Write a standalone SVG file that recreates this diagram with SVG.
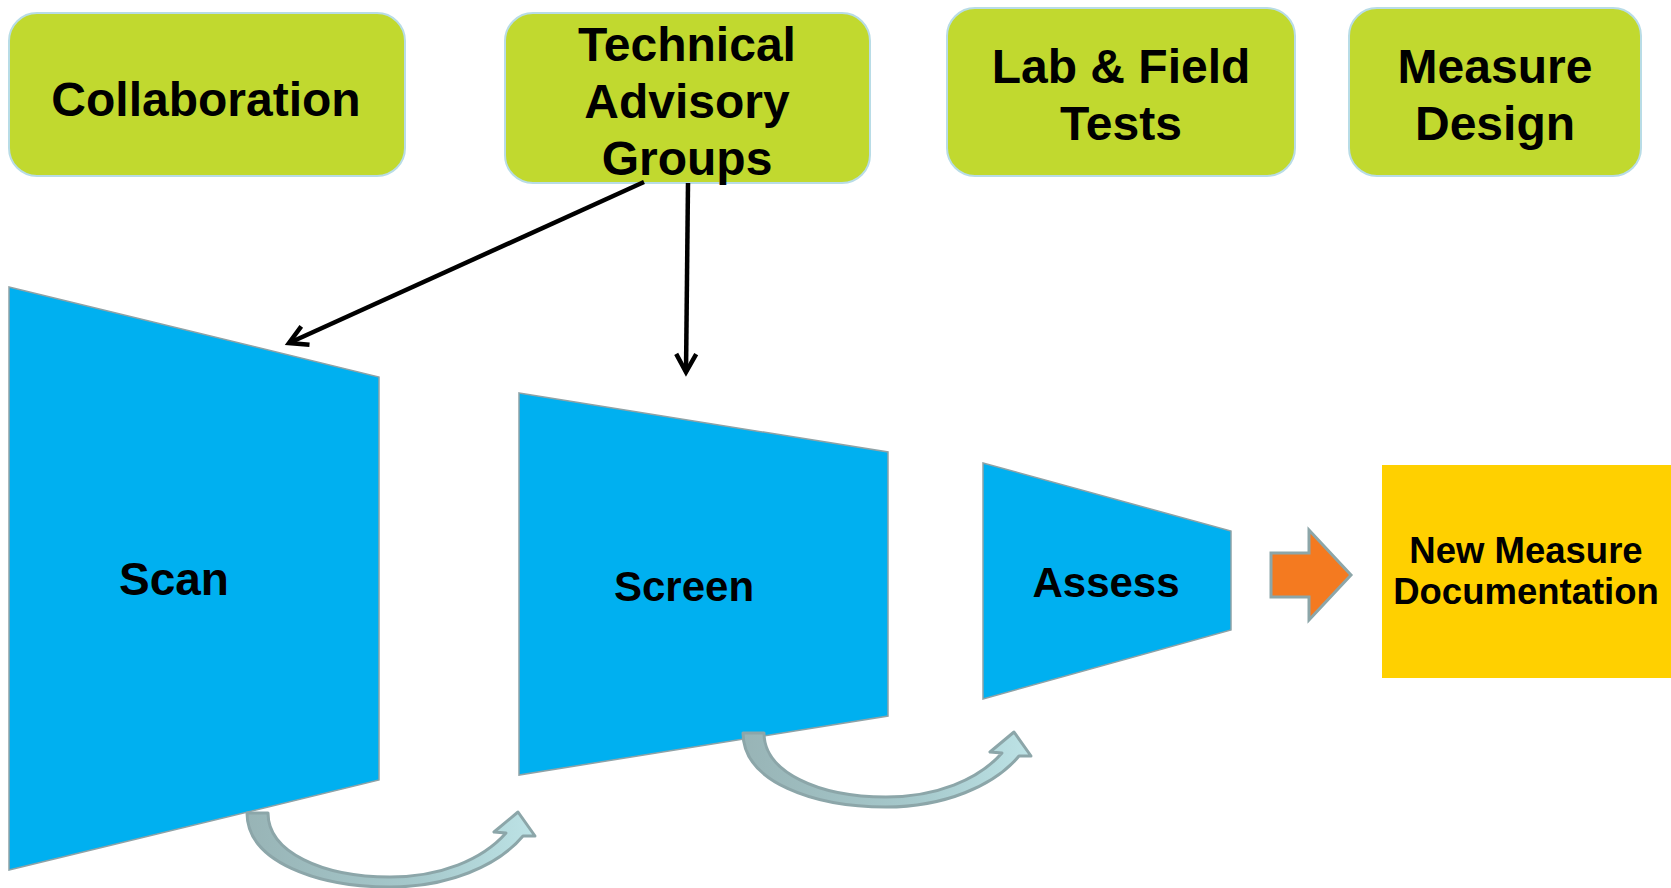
<svg xmlns="http://www.w3.org/2000/svg" width="1671" height="888" viewBox="0 0 1671 888">
  <style>
    .box { fill: #C1D92F; stroke: #B8DCE6; stroke-width: 2; }
    .stage { fill: #00B0F0; stroke: #8FA2A6; stroke-width: 1.5; }
    .lbl { font-family: "Liberation Sans", Arial, sans-serif; font-weight: bold; fill: #000; text-anchor: middle; }
    .top { font-size: 48px; }
    .conn { stroke: #000; stroke-width: 4.5; fill: none; marker-end: url(#vhead); }
    .bend { fill: url(#bendFill); stroke: #8CA6A9; stroke-width: 3; stroke-linejoin: round; }
  </style>
  <defs>
    <marker id="vhead" markerUnits="userSpaceOnUse" markerWidth="28" markerHeight="28" refX="22" refY="13" orient="auto">
      <path d="M4,3 L22,13 L4,23" fill="none" stroke="#000" stroke-width="4.5"/>
    </marker>
    <linearGradient id="bendFill" x1="0" y1="0" x2="1" y2="0">
      <stop offset="0" stop-color="#98B4B6"/>
      <stop offset="0.6" stop-color="#A6C9CC"/>
      <stop offset="1" stop-color="#BDE3E6"/>
    </linearGradient>
    <!-- curved hand-off arrow between stages -->
    <path id="bendArrow" class="bend" d="M247,813 C247,862 318,887 390,887 C448,887 498,866 523,836 L535,836 L518,812 L494,832 L506,833 C482,860 440,877 390,877 C322,877 268,852 268,813 Z"/>
  </defs>

  <!-- top row -->
  <g id="collaboration">
    <rect class="box" x="9" y="13" width="396" height="163" rx="28"/>
    <text class="lbl top" x="206" y="116">Collaboration</text>
  </g>
  <g id="tag">
    <rect class="box" x="505" y="13" width="365" height="170" rx="28"/>
    <text class="lbl top" x="687" y="61">Technical</text>
    <text class="lbl top" x="687" y="118">Advisory</text>
    <text class="lbl top" x="687" y="175">Groups</text>
  </g>
  <g id="labfield">
    <rect class="box" x="947" y="8" width="348" height="168" rx="28"/>
    <text class="lbl top" x="1121" y="83">Lab &amp; Field</text>
    <text class="lbl top" x="1121" y="140">Tests</text>
  </g>
  <g id="measuredesign">
    <rect class="box" x="1349" y="8" width="292" height="168" rx="28"/>
    <text class="lbl top" x="1495" y="83">Measure</text>
    <text class="lbl top" x="1495" y="140">Design</text>
  </g>

  <!-- funnel stages -->
  <g id="scan">
    <polygon class="stage" points="9,287 379,377 379,780 9,870"/>
    <text class="lbl" x="174" y="595" font-size="46">Scan</text>
  </g>
  <g id="screen">
    <polygon class="stage" points="519,393 888,452 888,716 519,775"/>
    <text class="lbl" x="684" y="601" font-size="42">Screen</text>
  </g>
  <g id="assess">
    <polygon class="stage" points="983,463 1231,531 1231,630 983,699"/>
    <text class="lbl" x="1106" y="597" font-size="42">Assess</text>
  </g>
  <g id="newmeasure">
    <rect x="1382" y="465" width="289" height="213" fill="#FFD000"/>
    <text class="lbl" x="1526" y="563" font-size="36.5">New Measure</text>
    <text class="lbl" x="1526" y="604" font-size="36.5">Documentation</text>
  </g>

  <!-- connectors -->
  <g id="connectors">
    <line class="conn" x1="644" y1="182" x2="289" y2="343"/>
    <line class="conn" x1="688" y1="183" x2="686" y2="372"/>
    <use href="#bendArrow"/>
    <use href="#bendArrow" transform="translate(496,-80)"/>
    <polygon points="1271,553 1309,553 1309,530 1351,575 1309,620 1309,597 1271,597" fill="#F47A20" stroke="#8CA6A9" stroke-width="3"/>
  </g>
</svg>
